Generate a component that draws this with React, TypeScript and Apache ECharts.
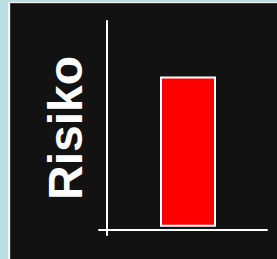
import React, { useEffect, useRef } from "react";
import * as echarts from "echarts";

const categories = ["Risiko"];
const values = [73];
const yMin = -4;
const yMax = 100;
const axisTitle = "Risiko";

export default function App() {
  const ref = useRef<HTMLDivElement>(null);
  useEffect(() => {
    if (!ref.current) return;
    const chart = echarts.init(ref.current, undefined, { renderer: "svg" });
    chart.setOption({
      animation: false,
      backgroundColor: "#badfe4",
      graphic: [
        { type: "rect", z: -10, shape: { x: 8, y: 2, width: 280, height: 270 }, style: { fill: "#f4f4f4" } },
        { type: "rect", z: -9, shape: { x: 10, y: 3, width: 280, height: 270 }, style: { fill: "#3a3a3a" } },
        { type: "rect", z: -8, shape: { x: 11, y: 4, width: 280, height: 270 }, style: { fill: "#121212" } },
        {
          type: "text",
          x: 65.5,
          y: 128,
          rotation: Math.PI / 2,
          style: {
            text: axisTitle,
            fill: "#ffffff",
            font: "bold 48px 'Liberation Sans', Arial, sans-serif",
            textAlign: "center",
            textVerticalAlign: "middle",
          },
        },
      ],
      grid: [
        { left: 99, right: 10, top: 21, bottom: 24 },
        { left: 109, right: 10, top: 21, bottom: 24 },
      ],
      xAxis: [
        {
          type: "category",
          gridIndex: 0,
          data: [""],
          offset: -5,
          axisLine: { show: true, onZero: false, lineStyle: { color: "#ffffff", width: 2 } },
          axisTick: { show: false },
          axisLabel: { show: false },
          splitLine: { show: false },
        },
        {
          type: "category",
          gridIndex: 1,
          data: categories,
          show: false,
        },
      ],
      yAxis: [
        {
          type: "value",
          gridIndex: 0,
          min: yMin,
          max: yMax,
          offset: -8,
          axisLine: { show: true, onZero: false, lineStyle: { color: "#ffffff", width: 2 } },
          axisTick: { show: false },
          axisLabel: { show: false },
          splitLine: { show: false },
        },
        {
          type: "value",
          gridIndex: 1,
          min: yMin,
          max: yMax,
          show: false,
          splitLine: { show: false },
        },
      ],
      series: [
        {
          type: "bar",
          xAxisIndex: 1,
          yAxisIndex: 1,
          data: values,
          barWidth: 56,
          itemStyle: { color: "#ff0000", borderColor: "#ffffff", borderWidth: 2 },
        },
      ],
    });
    return () => chart.dispose();
  }, []);
  return (
    <div
      ref={ref}
      style={{ position: "absolute", left: 0, top: 0, width: 277, height: 259 }}
    />
  );
}
